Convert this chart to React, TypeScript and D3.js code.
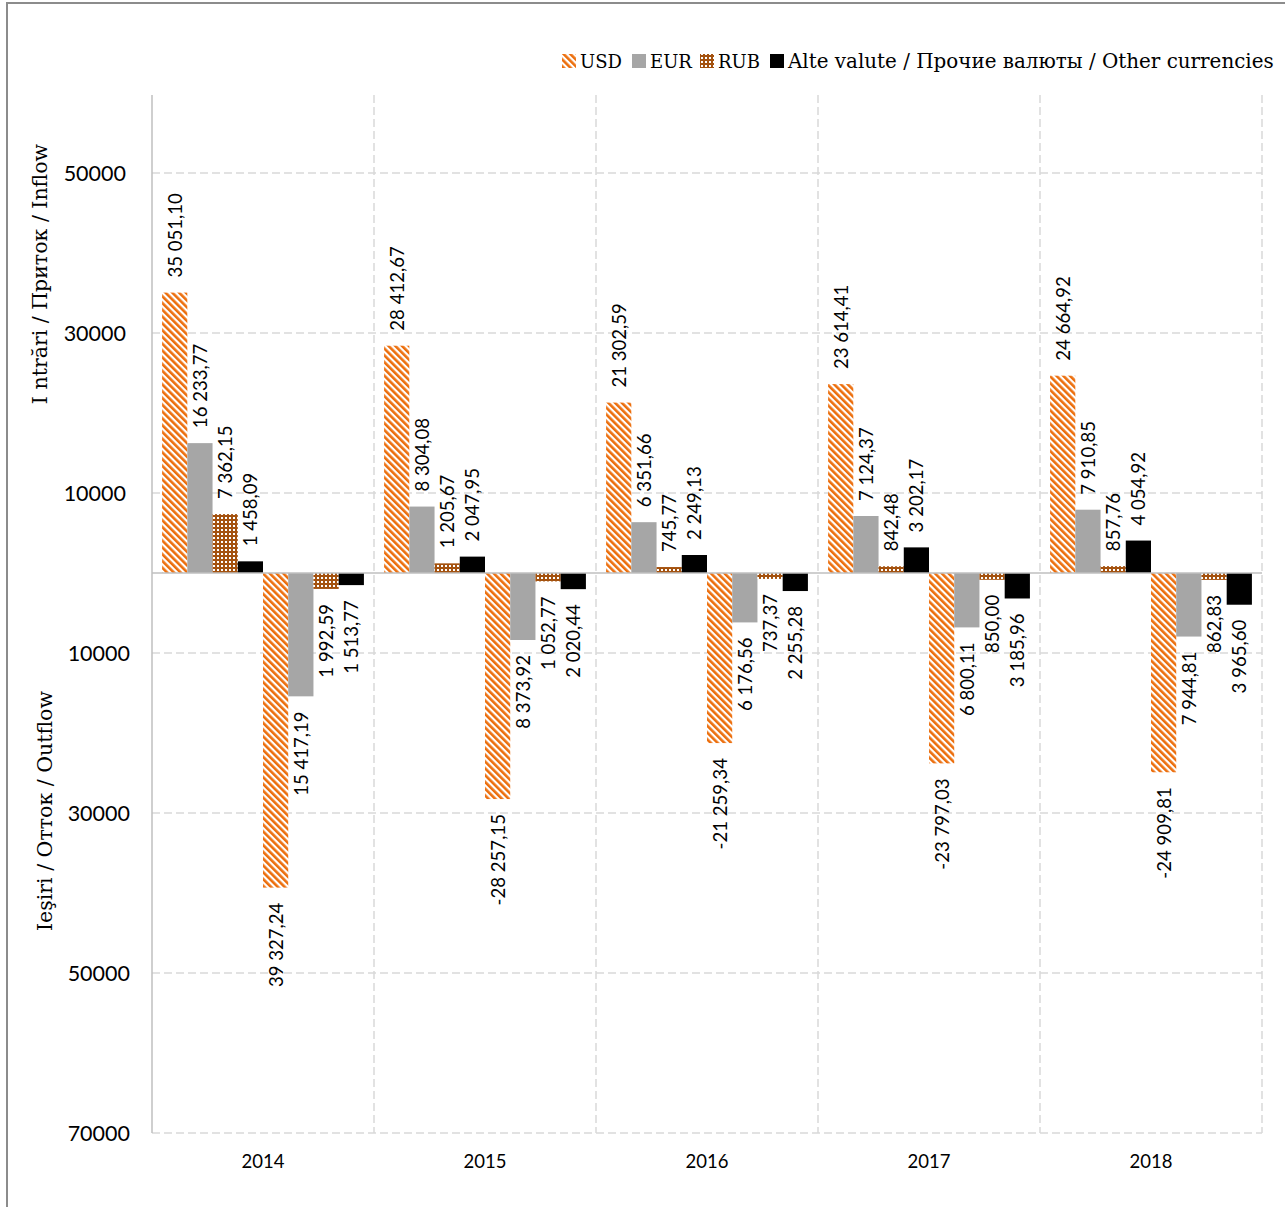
import React from "react";
import * as d3 from "d3";

// Years on the category axis
const years = ["2014", "2015", "2016", "2017", "2018"];

// Inflows by currency
const usdInflow = [35051.1, 28412.67, 21302.59, 23614.41, 24664.92];
const eurInflow = [16233.77, 8304.08, 6351.66, 7124.37, 7910.85];
const rubInflow = [7362.15, 1205.67, 745.77, 842.48, 857.76];
const otherInflow = [1458.09, 2047.95, 2249.13, 3202.17, 4054.92];

// Outflows by currency (magnitudes, drawn below zero)
const usdOutflow = [39327.24, 28257.15, 21259.34, 23797.03, 24909.81];
const eurOutflow = [15417.19, 8373.92, 6176.56, 6800.11, 7944.81];
const rubOutflow = [1992.59, 1052.77, 737.37, 850.0, 862.83];
const otherOutflow = [1513.77, 2020.44, 2255.28, 3185.96, 3965.6];

// USD outflow labels carry an explicit minus sign in these years
const usdOutflowSignedLabel = [false, true, true, true, true];

// Y axis ticks (outflow side shown as absolute values)
const yTicks = [50000, 30000, 10000, -10000, -30000, -50000, -70000];

const legendItems = [
  { key: "usd", label: "USD", size: 18 },
  { key: "eur", label: "EUR", size: 18 },
  { key: "rub", label: "RUB", size: 18 },
  { key: "other", label: "Alte valute / Прочие валюты / Other currencies", size: 19.9 },
];

const fills: Record<string, string> = {
  usd: "url(#usdStripes)",
  eur: "#a6a6a6",
  rub: "url(#rubGrid)",
  other: "#000000",
};

const locale = d3.formatLocale({
  decimal: ",",
  thousands: "\u00a0",
  grouping: [3],
  currency: ["", ""],
});
const fmt = locale.format(",.2f");

type Series = {
  key: string;
  cur: string;
  values: number[];
  sign: 1 | -1;
  signedLabel?: boolean[];
};

const series: Series[] = [
  { key: "usdIn", cur: "usd", values: usdInflow, sign: 1 },
  { key: "eurIn", cur: "eur", values: eurInflow, sign: 1 },
  { key: "rubIn", cur: "rub", values: rubInflow, sign: 1 },
  { key: "otherIn", cur: "other", values: otherInflow, sign: 1 },
  { key: "usdOut", cur: "usd", values: usdOutflow, sign: -1, signedLabel: usdOutflowSignedLabel },
  { key: "eurOut", cur: "eur", values: eurOutflow, sign: -1 },
  { key: "rubOut", cur: "rub", values: rubOutflow, sign: -1 },
  { key: "otherOut", cur: "other", values: otherOutflow, sign: -1 },
];

const W = 1285;
const H = 1207;
const plotLeft = 152;
const plotRight = 1262;
const plotTop = 93;
const plotBottom = 1133;

const sansFont = "Lato, 'Open Sans', sans-serif";
const serifFont = "'DejaVu Serif', serif";

export default function App() {
  const x = d3.scaleBand<string>().domain(years).range([plotLeft, plotRight]).padding(0);
  const inner = d3
    .scaleBand<string>()
    .domain(series.map((s) => s.key))
    .range([0, x.bandwidth()])
    .paddingInner(0)
    .paddingOuter(0.4);
  const y = d3.scaleLinear().domain([-70000, 60000]).range([plotBottom, plotTop]);
  const y0 = y(0);
  const labelGap = 15;

  return (
    <svg
      width={W}
      height={H}
      style={{ position: "absolute", left: 0, top: 0, display: "block", background: "#fff" }}
    >
      <defs>
        <pattern
          id="usdStripes"
          patternUnits="userSpaceOnUse"
          width={4.8}
          height={4.8}
          patternTransform="rotate(-45)"
        >
          <rect width={4.8} height={4.8} fill="#ffffff" />
          <rect width={2.6} height={4.8} fill="#ec6e0c" />
        </pattern>
        <pattern id="rubGrid" patternUnits="userSpaceOnUse" width={4} height={4}>
          <rect width={4} height={4} fill="#a4520f" />
          <rect x={1} y={1} width={2} height={2} fill="#ffffff" />
        </pattern>
      </defs>

      {/* outer frame */}
      <rect x={7} y={3} width={W + 10} height={H + 10} fill="none" stroke="#8c8c8c" strokeWidth={2} />

      {/* horizontal gridlines */}
      {yTicks.map((t) => (
        <line
          key={"g" + t}
          x1={plotLeft}
          x2={plotRight}
          y1={y(t)}
          y2={y(t)}
          stroke="#d9d9d9"
          strokeWidth={1.5}
          strokeDasharray="8,4"
        />
      ))}

      {/* vertical category separators */}
      {years.map((yr) => (
        <line
          key={"v" + yr}
          x1={(x(yr) as number) + x.bandwidth()}
          x2={(x(yr) as number) + x.bandwidth()}
          y1={plotTop + 2}
          y2={plotBottom}
          stroke="#d9d9d9"
          strokeWidth={1.5}
          strokeDasharray="8,4"
        />
      ))}

      {/* bars */}
      {series.map((s) =>
        s.values.map((v, i) => {
          const bx = (x(years[i]) as number) + (inner(s.key) as number);
          const val = s.sign * v;
          const top = Math.min(y(val), y0);
          const h = Math.abs(y(val) - y0);
          return (
            <rect
              key={s.key + i}
              x={bx}
              y={top}
              width={inner.bandwidth()}
              height={h}
              fill={fills[s.cur]}
            />
          );
        })
      )}

      {/* axes */}
      <line x1={plotLeft} x2={plotLeft} y1={plotTop + 2} y2={plotBottom} stroke="#bfbfbf" strokeWidth={1.5} />
      <line x1={plotLeft} x2={plotRight} y1={y0} y2={y0} stroke="#bfbfbf" strokeWidth={1.5} />

      {/* data labels */}
      {series.map((s) =>
        s.values.map((v, i) => {
          const cx = (x(years[i]) as number) + (inner(s.key) as number) + inner.bandwidth() / 2;
          const val = s.sign * v;
          const text = (s.signedLabel && s.signedLabel[i] ? "-" : "") + fmt(v);
          const ay = s.sign > 0 ? y(val) - labelGap : y(val) + labelGap;
          return (
            <text
              key={"l" + s.key + i}
              transform={`translate(${cx},${ay}) rotate(-90)`}
              textAnchor={s.sign > 0 ? "start" : "end"}
              dominantBaseline="central"
              fontFamily={sansFont}
              fontSize={18.6}
              fill="#000"
            >
              {text}
            </text>
          );
        })
      )}

      {/* y tick labels */}
      {yTicks.map((t) => (
        <text
          key={"t" + t}
          x={t > 0 ? 126 : 130}
          y={y(t)}
          textAnchor="end"
          dominantBaseline="central"
          fontFamily={sansFont}
          fontSize={21.5}
          fill="#000"
        >
          {Math.abs(t)}
        </text>
      ))}

      {/* year labels */}
      {years.map((yr) => (
        <text
          key={"y" + yr}
          x={(x(yr) as number) + x.bandwidth() / 2}
          y={1161}
          textAnchor="middle"
          dominantBaseline="central"
          fontFamily={sansFont}
          fontSize={18.5}
          fill="#000"
        >
          {yr}
        </text>
      ))}

      {/* axis titles */}
      <text
        transform="translate(40,274) rotate(-90)"
        textAnchor="middle"
        dominantBaseline="central"
        fontFamily={serifFont}
        fontSize={20.5}
        fill="#000"
      >
        I ntrări / Приток / Inflow
      </text>
      <text
        transform="translate(45,811) rotate(-90)"
        textAnchor="middle"
        dominantBaseline="central"
        fontFamily={serifFont}
        fontSize={20.5}
        fill="#000"
      >
        Ieşiri / Отток / Outflow
      </text>

      {/* legend */}
      <Legend />
    </svg>
  );
}

function Legend() {
  const starts = [562, 632, 700, 770];
  return (
    <g>
      {legendItems.map((it, i) => (
        <g key={it.key} transform={`translate(${starts[i]},0)`}>
          <rect x={0} y={54} width={14} height={14} fill={fills[it.key]} />
          <text
            x={18}
            y={61}
            dominantBaseline="central"
            fontFamily={serifFont}
            fontSize={it.size}
            fill="#000"
          >
            {it.label}
          </text>
        </g>
      ))}
    </g>
  );
}
